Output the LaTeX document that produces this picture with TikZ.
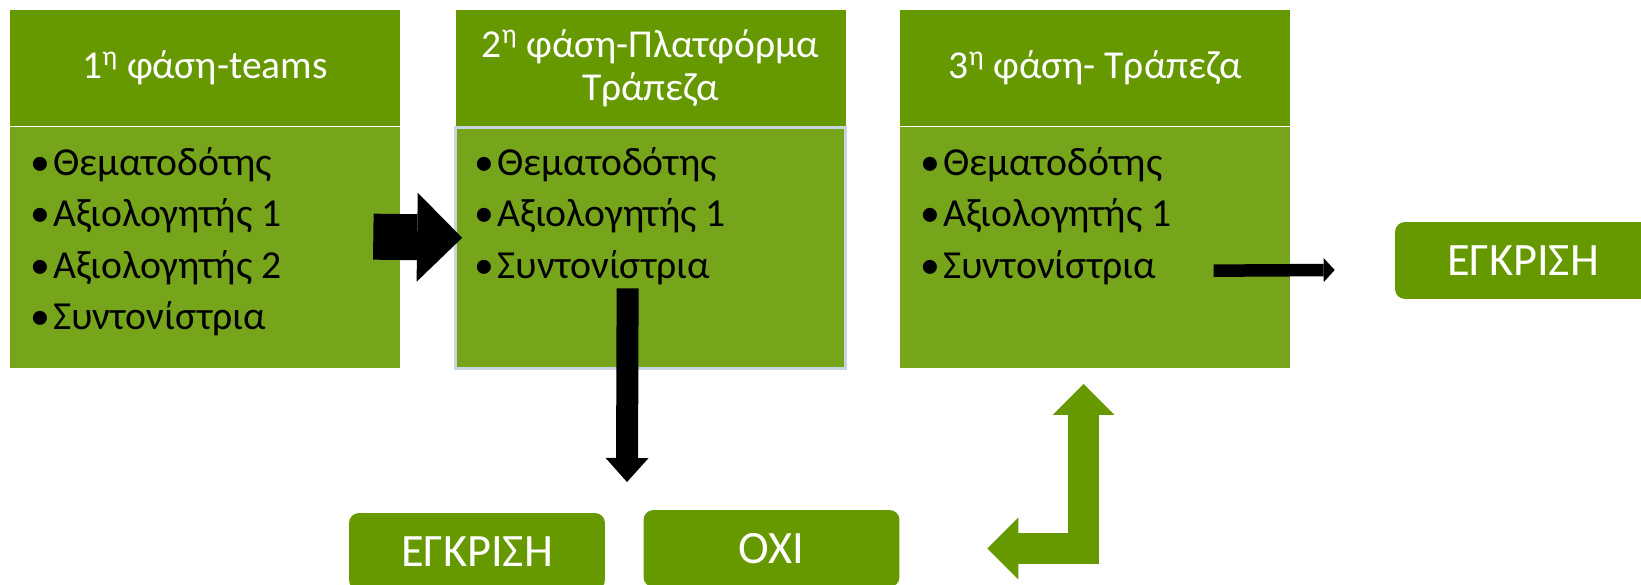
\documentclass[tikz,border=0pt]{standalone}
\usepackage{fontspec}
\setmainfont{Carlito}
\usetikzlibrary{positioning,arrows.meta}
\definecolor{hdrgreen}{RGB}{102,153,0}
\definecolor{bodygreen}{RGB}{118,165,27}
\definecolor{edgeblue}{RGB}{200,212,226}
\newcommand{\bul}[1]{\makebox[0.46cm][l]{•}#1}

\begin{document}
\begin{tikzpicture}[x=0.02cm, y=-0.02cm, node distance=0pt,
    head/.style={rectangle, fill=hdrgreen, text=white, minimum width=7.8cm, minimum height=2.32cm, inner sep=0pt, align=center, font=\fontsize{22.5}{24.5}\selectfont},
    body/.style={rectangle, fill=bodygreen, minimum width=7.8cm, minimum height=4.82cm, inner sep=0pt},
    items/.style={anchor=north west, align=left, inner sep=0pt, font=\fontsize{22.6}{29.2}\selectfont},
    result/.style={rectangle, rounded corners=0.2cm, fill=hdrgreen, text=white, minimum width=5.12cm, minimum height=1.54cm, font=\fontsize{26.4}{30}\selectfont},
    bigarrow/.style={line width=0.92cm, -{Triangle[width=1.78cm, length=0.9cm, line width=0pt]}},
    downarrow/.style={line width=0.44cm, -{Triangle[width=0.86cm, length=0.48cm, line width=0pt]}},
    thinarrow/.style={line width=0.25cm, -{Triangle[width=0.48cm, length=0.22cm, line width=0pt]}},
    backarrow/.style={draw=hdrgreen, line width=0.62cm, {Triangle[width=1.24cm, length=0.62cm, line width=0pt]}-{Triangle[width=1.24cm, length=0.62cm, line width=0pt]}}]
    \useasboundingbox (0,0) rectangle (1641,585);

    % the three phases
    \node[head] (h1) at (205,68) {1\textsuperscript{η} φάση-teams};
    \node[head] (h2) [right=1.1cm of h1] {2\textsuperscript{η} φάση-Πλατφόρμα\\Τράπεζα};
    \node[head] (h3) [right=1.08cm of h2] {3\textsuperscript{η} φάση- Τράπεζα};
    \node[body] (b1) [below=of h1] {};
    \node[body, draw=edgeblue, line width=0.06cm] (b2) [below=of h2] {};
    \node[body] (b3) [below=of h3] {};
    \node[items] (l1) at ([shift={(20,21)}]b1.north west) {\bul{Θεματοδότης}\\\bul{Αξιολογητής 1}\\\bul{Αξιολογητής 2}\\\bul{Συντονίστρια}};
    \node[items] (l2) at ([shift={(20,21)}]b2.north west) {\bul{Θεματοδότης}\\\bul{Αξιολογητής 1}\\\bul{Συντονίστρια}};
    \node[items] (l3) at ([shift={(20,21)}]b3.north west) {\bul{Θεματοδότης}\\\bul{Αξιολογητής 1}\\\bul{Συντονίστρια}};

    % outcomes
    \node[result] (ok3) at (1523,260.5) {ΕΓΚΡΙΣΗ};
    \node[result] (ok2) at (477,551.5) {ΕΓΚΡΙΣΗ};
    \node[result] (no) at (771.5,548.5) {ΟΧΙ};
    \coordinate (split) at (627,482);

    % Draw the arrows
    \draw[bigarrow] ([shift={(-27,-10.5)}]b1.east) -- ([shift={(8,-10.5)}]b2.west);
    \draw[downarrow] ([shift={(-23,-82)}]b2.south) -- (split);
    \draw[thinarrow] ([shift={(-77,23.5)}]b3.east) -- ([shift={(-60,9.5)}]ok3.west);
    \draw[backarrow] ([shift={(87.5,0)}]no.east) -| ([shift={(-11.5,16)}]b3.south);

\end{tikzpicture}
\end{document}
